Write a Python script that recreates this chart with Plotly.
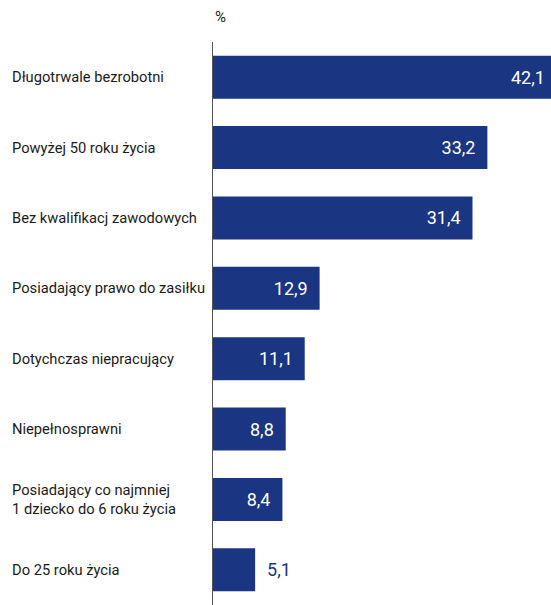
"""Horizontal bar chart - groups of unemployed (%)"""
import plotly.graph_objects as go

# Data
categories = [
    "Długotrwale bezrobotni",
    "Powyżej 50 roku życia",
    "Bez kwalifikacj zawodowych",
    "Posiadający prawo do zasiłku",
    "Dotychczas niepracujący",
    "Niepełnosprawni",
    "Posiadający co najmniej<br>1 dziecko do 6 roku życia",
    "Do 25 roku życia",
]
values = [42.1, 33.2, 31.4, 12.9, 11.1, 8.8, 8.4, 5.1]
unit_label = "%"

NAVY = "#1a3582"
FONT = "Roboto, Arial, sans-serif"
X_MAX = 40.9  # the longest bar runs off the right edge

W, H = 551, 605
plot_left = 213

nb = "\u00a0"
text_pos, templates = [], []
for v in values:
    if v > X_MAX:
        text_pos.append("none")  # labelled with an annotation below
        templates.append("")
    elif v > 7:
        text_pos.append("inside")
        templates.append("%{x:.1f}" + nb * 2)
    else:
        text_pos.append("outside")
        templates.append(nb * 2 + "%{x:.1f}")

fig = go.Figure(go.Bar(
    x=values,
    y=categories,
    orientation="h",
    marker=dict(color=NAVY, line=dict(width=0)),
    texttemplate=templates,
    textposition=text_pos,
    insidetextanchor="end",
    insidetextfont=dict(family=FONT, size=18, color="white"),
    outsidetextfont=dict(family=FONT, size=18, color=NAVY),
    cliponaxis=True,
    width=0.61,
))

# labels for bars that run past the axis range
for cat, v in zip(categories, values):
    if v > X_MAX:
        fig.add_annotation(
            x=X_MAX, xref="x", xanchor="right", y=cat, yref="y",
            text=f"{v:.1f}".replace(".", ",") + nb, showarrow=False,
            font=dict(family=FONT, size=18, color="white"),
        )

# Left aligned category labels
plot_w = W - plot_left
for cat in categories:
    fig.add_annotation(
        x=-(plot_left - 10) / plot_w, xref="paper", xanchor="left",
        y=cat, yref="y", yanchor="middle",
        text=cat, showarrow=False, align="left",
        font=dict(family=FONT, size=14.7, color="#1a1a1a"),
    )

fig.add_annotation(
    x=0, xref="paper", xanchor="left", y=1, yref="paper", yanchor="bottom",
    yshift=14, text=unit_label, showarrow=False,
    font=dict(family=FONT, size=15, color="#1a1a1a"),
)

fig.update_layout(
    width=W, height=H,
    margin=dict(l=plot_left, r=0, t=42, b=0),
    plot_bgcolor="white", paper_bgcolor="white",
    separators=", ",
    showlegend=False,
    xaxis=dict(range=[0, X_MAX], visible=False, fixedrange=True),
    yaxis=dict(
        autorange="reversed", showticklabels=False, ticks="",
        showline=True, linecolor="#555555", linewidth=1, showgrid=False,
        fixedrange=True,
    ),
    bargap=0.39,
)

# drop the default body margin so the figure fills the window exactly
fig.write_html(
    "out.html",
    config={"displayModeBar": False},
    post_script="document.body.style.margin='0';",
)
